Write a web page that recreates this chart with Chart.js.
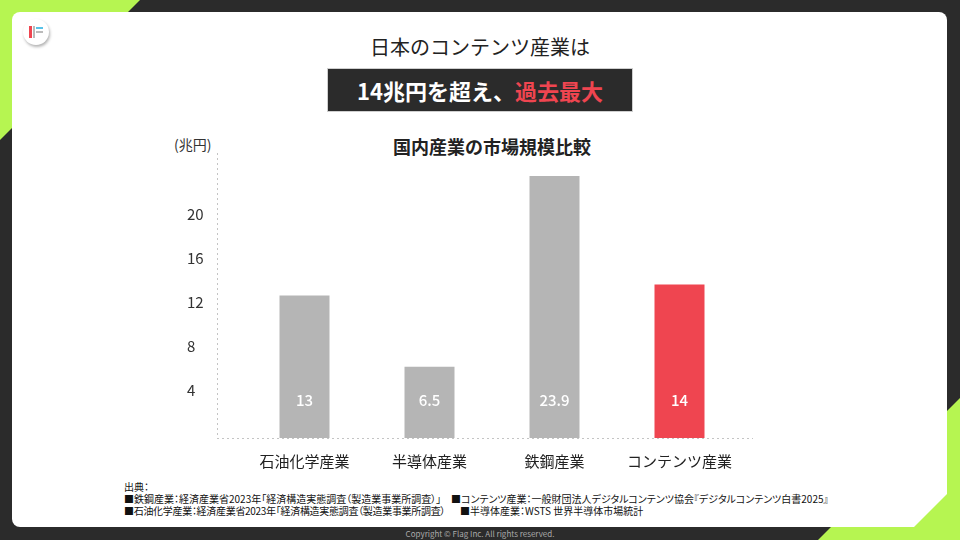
<!DOCTYPE html>
<html lang="ja">
<head>
<meta charset="utf-8">
<script src="https://cdn.jsdelivr.net/npm/chart.js@4.4.1/dist/chart.umd.min.js"></script>
<style>
  html, body { margin: 0; padding: 0; }
  body {
    width: 960px; height: 540px; overflow: hidden; position: relative;
    background: #2b2b2b;
    font-family: "Noto Sans CJK JP", "Noto Sans", sans-serif;
  }
  .green-tl { position: absolute; left: 0; top: 0; width: 140px; height: 140px;
    background: #b6f551; clip-path: polygon(0 0, 100% 0, 0 100%); }
  .green-br { position: absolute; left: 818px; top: 398px; width: 142px; height: 142px;
    background: #b6f551; clip-path: polygon(100% 0, 100% 100%, 0 100%); }
  .card { position: absolute; left: 12px; top: 12px; width: 935px; height: 515px;
    background: #fff; border-radius: 8px;
    clip-path: polygon(0 0, 100% 0, 100% 482px, 902px 100%, 0 100%); }
  .logo { position: absolute; left: 23px; top: 19px; width: 26px; height: 26px; border-radius: 50%;
    background: #fff; box-shadow: 1px 2px 3px rgba(0,0,0,0.3); }
  .logo i { position: absolute; display: block; }
  .head { position: absolute; left: 0; width: 960px; text-align: center; color: #222; }
  .box { position: absolute; left: 327px; top: 68px; width: 306px; height: 44px;
    background: #2b2b2b; border: 1px solid #cfcfcf; box-sizing: border-box;
    color: #fff; font-weight: bold; font-size: 22px; line-height: 42px; text-align: center; }
  .box span { color: #ef4550; }
  .unit { position: absolute; left: 174px; top: 134px; font-size: 14px; color: #333; }
  .ctitle { position: absolute; left: 342px; width: 300px; top: 133px; text-align: center;
    font-size: 18px; font-weight: bold; color: #222; }
  .src { position: absolute; font-size: 10px; color: #111; white-space: nowrap; line-height: 12px;
    font-feature-settings: "palt"; }
  .copy { position: absolute; left: 0; width: 960px; top: 528px; text-align: center;
    font-size: 8px; color: #aaa; }
  canvas { position: absolute; left: 150px; top: 144px; }
</style>
</head>
<body>
<div class="green-tl"></div>
<div class="green-br"></div>
<div class="card"></div>
<div class="logo">
  <i style="left:6px;top:7px;width:3px;height:12px;background:#ef4550"></i>
  <i style="left:10px;top:7px;width:2px;height:12px;background:#bbb"></i>
  <i style="left:13px;top:8px;width:7px;height:2px;background:#58c2e8"></i>
  <i style="left:13px;top:12px;width:7px;height:2px;background:#bbb"></i>
</div>

<div class="head" style="top:32px;font-size:20px;">日本のコンテンツ産業は</div>
<div class="box">14兆円を超え、<span>過去最大</span></div>

<div class="unit">(兆円)</div>
<div class="ctitle">国内産業の市場規模比較</div>

<canvas id="marketChart" width="684" height="340"></canvas>

<div class="src" style="left:124px;top:481px;">出典：</div>
<div class="src" style="left:124px;top:493px;">■鉄鋼産業：経済産業省2023年「経済構造実態調査（製造業事業所調査）」</div>
<div class="src" style="left:451px;top:493px;">■コンテンツ産業：一般財団法人デジタルコンテンツ協会『デジタルコンテンツ白書2025』</div>
<div class="src" style="left:124px;top:505px;letter-spacing:-0.3px;">■石油化学産業：経済産業省2023年「経済構造実態調査（製造業事業所調査）</div>
<div class="src" style="left:460px;top:505px;">■半導体産業：WSTS 世界半導体市場統計</div>
<div class="copy">Copyright © Flag Inc. All rights reserved.</div>

<script>
// 国内産業の市場規模（兆円）
const industries = ['石油化学産業', '半導体産業', '鉄鋼産業', 'コンテンツ産業'];
const marketSize = [13, 6.5, 23.9, 14];
const yTickLabels = [4, 8, 12, 16, 20];

const GREY = '#b5b5b5';
const RED = '#ef4550';
const highlight = 'コンテンツ産業';

// 点線の軸 (y軸とベースライン)
const dottedAxes = {
  id: 'dottedAxes',
  beforeDatasetsDraw(chart) {
    const { ctx, chartArea: a } = chart;
    const x0 = a.left - 25;
    ctx.save();
    ctx.strokeStyle = '#c4c4c4';
    ctx.lineWidth = 1;
    ctx.setLineDash([2, 3]);
    ctx.beginPath();
    ctx.moveTo(x0 + 0.5, a.top);
    ctx.lineTo(x0 + 0.5, a.bottom);
    ctx.moveTo(x0, a.bottom + 0.5);
    ctx.lineTo(a.right + 11, a.bottom + 0.5);
    ctx.stroke();
    ctx.restore();
  }
};

// 棒の中の数値
const barValues = {
  id: 'barValues',
  afterDatasetsDraw(chart) {
    const { ctx, chartArea: a } = chart;
    const meta = chart.getDatasetMeta(0);
    ctx.save();
    ctx.fillStyle = '#fff';
    ctx.font = '500 15px "Noto Sans CJK JP"';
    ctx.textAlign = 'center';
    ctx.textBaseline = 'middle';
    meta.data.forEach((bar, i) => {
      ctx.fillText(String(marketSize[i]), bar.x, a.bottom - 38);
    });
    ctx.restore();
  }
};

new Chart(document.getElementById('marketChart'), {
  type: 'bar',
  data: {
    labels: industries,
    datasets: [{
      data: marketSize,
      backgroundColor: industries.map(n => n === highlight ? RED : GREY),
      borderWidth: 0,
      categoryPercentage: 1,
      barPercentage: 0.4
    }]
  },
  options: {
    responsive: false,
    animation: false,
    devicePixelRatio: 1,
    layout: { padding: { top: 3, right: 92, bottom: 0, left: 37 } },
    plugins: { legend: { display: false }, tooltip: { enabled: false } },
    scales: {
      x: {
        grid: { display: false, drawTicks: false },
        border: { display: false },
        ticks: { color: '#222', padding: 14, font: { family: 'Noto Sans CJK JP', size: 15 } }
      },
      y: {
        min: 0,
        max: 26,
        grid: { display: false, drawTicks: false },
        border: { display: false },
        afterFit(scale) { scale.width = 55; },
        ticks: {
          stepSize: 4,
          color: '#333',
          padding: 0,
          crossAlign: 'far',
          labelOffset: -4,
          font: { family: 'Noto Sans CJK JP', size: 15 },
          callback: v => yTickLabels.includes(v) ? v : ''
        }
      }
    }
  },
  plugins: [dottedAxes, barValues]
});
</script>
</body>
</html>
